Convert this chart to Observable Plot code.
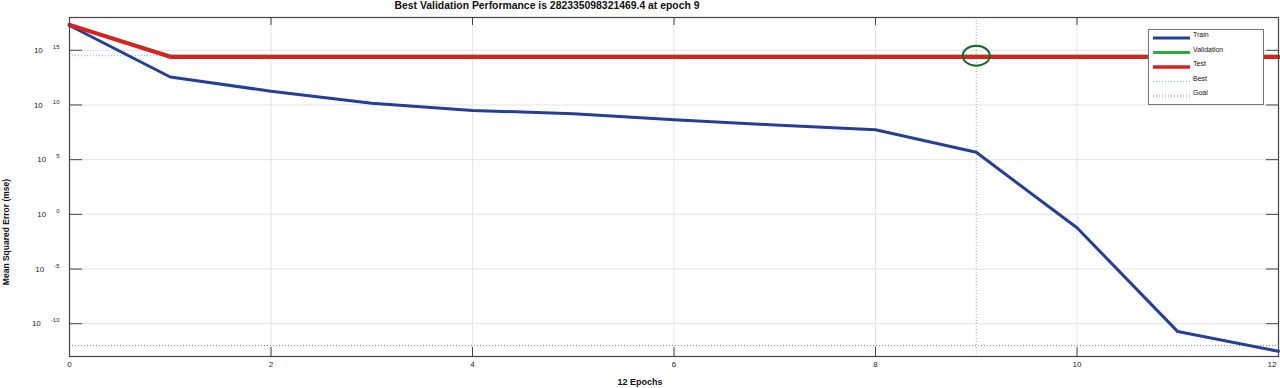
<!DOCTYPE html>
<html><head><meta charset="utf-8">
<script src="https://cdn.jsdelivr.net/npm/d3@7"></script>
<script src="https://cdn.jsdelivr.net/npm/@observablehq/plot@0.6"></script>
<style>
body{margin:0;background:#fff;font-family:"Liberation Sans",Arial,sans-serif;}
#wrap{position:relative;width:1280px;height:388px;overflow:hidden;background:#fff;}
#title{position:absolute;top:0px;left:547px;transform:translateX(-50%);font-weight:bold;font-size:10.4px;line-height:11px;white-space:nowrap;color:#111;}
#chart{position:absolute;left:0;top:10px;}
#xlabel{position:absolute;left:640px;top:377px;transform:translateX(-50%);font-weight:bold;font-size:9px;white-space:nowrap;color:#111;}
#ylabel{position:absolute;left:6px;top:232px;transform:translate(-50%,-50%) rotate(-90deg);font-weight:bold;font-size:8.5px;white-space:nowrap;color:#111;}
#legend{position:absolute;left:1148px;top:29px;}
</style>
</head><body>
<div id="wrap">
  <div id="chart"></div>
  <div id="title"></div>
  <div id="ylabel"></div>
  <div id="xlabel"></div>
  <div id="legend"></div>
</div>
<script>
const titleText = "Best Validation Performance is 282335098321469.4 at epoch 9";
const xLabel = "12 Epochs";
const yLabel = "Mean Squared Error  (mse)";

const epochs = [0,1,2,3,4,5,6,7,8,9,10,11,12];
const train = [1.86e17,3.6e12,1.8e11,1.45e10,3.2e9,1.55e9,4.4e8,1.5e8,5.4e7,4.8e5,5.9e-2,1.9e-11,3.0e-13];
const validation = [2.3e17,3.2e14,3.2e14,3.2e14,3.2e14,3.2e14,3.2e14,3.2e14,3.2e14,3.2e14,3.2e14,3.2e14,3.2e14];
const test = [2.1e17,2.5e14,2.5e14,2.5e14,2.5e14,2.5e14,2.5e14,2.5e14,2.5e14,2.5e14,2.5e14,2.5e14,2.5e14];
const bestEpoch = 9;
const bestValue = 3.2e14;
const goal = 1e-12;

const xTicks = [0,2,4,6,8,10,12];
const yTicks = [1e-10,1e-5,1,1e5,1e10,1e15];
const yTickExp = ["-10","-5","0","5","10","15"];

const seriesNames = ["Train","Validation","Test","Best","Goal"];
const colors = {Train:"#253f98", Validation:"#2eaa3a", Test:"#dc1f1f", Best:"#6fbfbf", Goal:"#808080", Circle:"#14682a"};

document.getElementById("title").textContent = titleText;
document.getElementById("xlabel").textContent = xLabel;
document.getElementById("ylabel").textContent = yLabel;

const rows = (name, vals) => epochs.map((e,i) => ({epoch:e, value:vals[i], series:name}));
const trainRows = rows("Train", train);
const valRows = rows("Validation", validation);
const testRows = rows("Test", test);

const W = 1280, H = 366, mL = 69, mR = 2, mT = 7, mB = 20;
const pw = W - mL - mR, ph = H - mT - mB;
const axisColor = "#444";

const plot = Plot.plot({
  width: W, height: H,
  marginLeft: mL, marginRight: mR, marginTop: mT, marginBottom: mB,
  style: {fontFamily: '"Liberation Sans", Arial, sans-serif', fontSize: "8px", color: "#222", background: "transparent"},
  x: {domain: [0, 12]},
  y: {type: "log", domain: [1e-13, 1e18]},
  marks: [
    Plot.gridX({ticks: [2,4,6,8,10], stroke: "#e4e4e4", strokeOpacity: 1}),
    Plot.gridY({ticks: yTicks, stroke: "#e4e4e4", strokeOpacity: 1}),
    Plot.ruleY([goal], {stroke: colors.Goal, strokeWidth: 1, strokeDasharray: "1,2"}),
    Plot.ruleY([bestValue], {stroke: colors.Best, strokeWidth: 1, strokeDasharray: "1,2"}),
    Plot.ruleX([bestEpoch], {stroke: colors.Best, strokeWidth: 1, strokeDasharray: "1,2"}),
    Plot.line(trainRows, {x: "epoch", y: "value", stroke: colors.Train, strokeWidth: 3}),
    Plot.line(valRows, {x: "epoch", y: "value", stroke: colors.Validation, strokeWidth: 2.5}),
    Plot.line(testRows, {x: "epoch", y: "value", stroke: colors.Test, strokeWidth: 4}),
    Plot.dot([{epoch: bestEpoch, value: bestValue}], {x: "epoch", y: "value", r: 11, stroke: colors.Circle, strokeWidth: 2, fill: "none"}),
    Plot.ruleX([2,4,6,8,10], {stroke: axisColor, strokeWidth: 1, insetTop: ph - 9}),
    Plot.ruleX([2,4,6,8,10], {stroke: axisColor, strokeWidth: 1, insetBottom: ph - 8}),
    Plot.ruleY(yTicks, {stroke: axisColor, strokeWidth: 1, insetRight: pw - 13}),
    Plot.ruleY(yTicks, {stroke: axisColor, strokeWidth: 1, insetLeft: pw - 12}),
    Plot.frame({stroke: axisColor, strokeWidth: 1.2}),
    Plot.axisX({ticks: xTicks, tickSize: 0, tickPadding: 5, label: null, fontSize: 8}),
    Plot.axisY({ticks: yTicks, tickSize: 0, tickPadding: 10, label: null, fontSize: 8,
      tickFormat: d => "10^" + yTickExp[yTicks.indexOf(d)]})
  ]
});
document.getElementById("chart").appendChild(plot);

// render y tick labels as 10 with raised exponent
d3.select(plot).selectAll('g[aria-label="y-axis tick label"] text').each(function() {
  const t = d3.select(this);
  const s = t.text();
  const exp = s.split("^")[1];
  t.text(null);
  t.append("tspan").text("10");
  t.append("tspan").attr("dx", "10").attr("dy", "-4").attr("font-size", "6px").text(exp);
});

// keep the last x tick label inside the picture
const xl = d3.select(plot).selectAll('g[aria-label="x-axis tick label"] text').nodes();
if (xl.length) d3.select(xl[xl.length - 1]).attr("text-anchor", "end").attr("dx", "-2");

// turn best marker into ellipse
d3.select(plot).selectAll('g[aria-label="dot"] circle').each(function() {
  const c = d3.select(this);
  let cx = +c.attr("cx") || 0, cy = +c.attr("cy") || 0;
  const tr = c.attr("transform");
  if (tr) { const m = /translate\(([-\d.]+),\s*([-\d.]+)\)/.exec(tr); if (m) { cx = +m[1]; cy = +m[2]; } }
  d3.select(this.parentNode).append("ellipse").attr("cx", cx).attr("cy", cy).attr("rx", 13.5).attr("ry", 10)
    .attr("fill", "none").attr("stroke", colors.Circle).attr("stroke-width", 2);
  c.remove();
});

// legend
const lg = d3.select("#legend").append("svg").attr("width", 116).attr("height", 76)
  .style("font-family", '"Liberation Sans", Arial, sans-serif');
lg.append("rect").attr("x", 0.5).attr("y", 0.5).attr("width", 115).attr("height", 75)
  .attr("fill", "#fff").attr("stroke", "#777").attr("stroke-width", 1);
const legendStyle = {
  Train: {w: 3, dash: null}, Validation: {w: 3, dash: null}, Test: {w: 3.5, dash: null},
  Best: {w: 1, dash: "1,2"}, Goal: {w: 1, dash: "1,2"}
};
seriesNames.forEach((name, i) => {
  const y = 9 + i * 14.5;
  lg.append("line").attr("x1", 5).attr("x2", 42).attr("y1", y).attr("y2", y)
    .attr("stroke", colors[name]).attr("stroke-width", legendStyle[name].w)
    .attr("stroke-dasharray", legendStyle[name].dash);
  lg.append("text").attr("x", 45).attr("y", y - 1).attr("font-size", "7px").attr("fill", "#111").text(name);
});
</script>
</body></html>
